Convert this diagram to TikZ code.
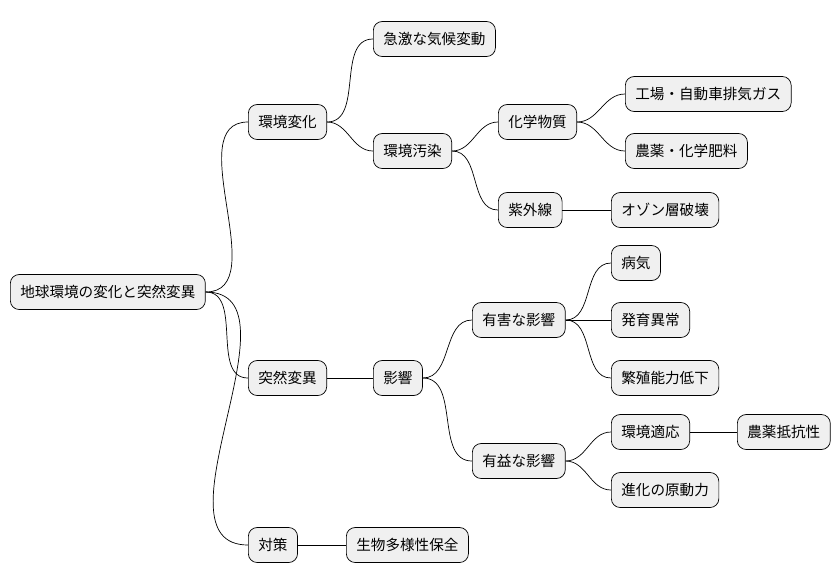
\documentclass[tikz,border=0pt]{standalone}
\usepackage{fontspec}
\setmainfont{Noto Sans CJK JP}
\begin{document}
\begin{tikzpicture}[x=0.02cm, y=-0.02cm, >=latex]
\tikzstyle{topic} = [draw, thin, rounded corners=5pt, fill=black!6, minimum height=0.7cm,
  inner xsep=0.2cm, anchor=west, font=\fontsize{8.3}{10}\selectfont]
\tikzstyle{link} = [thin, out=0, in=180]
\useasboundingbox (0,0) rectangle (838,583);

    % nodes at left edges
    \node [topic] (root) at (10,292) {地球環境の変化と突然変異};
    \node [topic] (change) at (248,122) {環境変化};
    \node [topic] (climate) at (373,39) {急激な気候変動};
    \node [topic] (pollution) at (373,151) {環境汚染};
    \node [topic] (chem) at (498,122) {化学物質};
    \node [topic] (exhaust) at (625,94) {工場・自動車排気ガス};
    \node [topic] (pesticide) at (625,151) {農薬・化学肥料};
    \node [topic] (uv) at (498,210) {紫外線};
    \node [topic] (ozone) at (611,210) {オゾン層破壊};
    \node [topic] (mutation) at (248,378) {突然変異};
    \node [topic] (effect) at (373,378) {影響};
    \node [topic] (harm) at (472,320) {有害な影響};
    \node [topic] (disease) at (611,263) {病気};
    \node [topic] (growth) at (611,320) {発育異常};
    \node [topic] (fertility) at (611,378) {繁殖能力低下};
    \node [topic] (benefit) at (472,461) {有益な影響};
    \node [topic] (adapt) at (611,432) {環境適応};
    \node [topic] (resist) at (737,432) {農薬抵抗性};
    \node [topic] (evolution) at (611,490) {進化の原動力};
    \node [topic] (measure) at (248,545) {対策};
    \node [topic] (diversity) at (346,545) {生物多様性保全};

    % branches
    \draw [link] (root.east) to (change.west);
    \draw [link] (root.east) to (mutation.west);
    \draw [link] (root.east) to (measure.west);
    \draw [link] (change.east) to (climate.west);
    \draw [link] (change.east) to (pollution.west);
    \draw [link] (pollution.east) to (chem.west);
    \draw [link] (pollution.east) to (uv.west);
    \draw [link] (chem.east) to (exhaust.west);
    \draw [link] (chem.east) to (pesticide.west);
    \draw [link] (uv.east) to (ozone.west);
    \draw [link] (mutation.east) to (effect.west);
    \draw [link] (effect.east) to (harm.west);
    \draw [link] (effect.east) to (benefit.west);
    \draw [link] (harm.east) to (disease.west);
    \draw [link] (harm.east) to (growth.west);
    \draw [link] (harm.east) to (fertility.west);
    \draw [link] (benefit.east) to (adapt.west);
    \draw [link] (benefit.east) to (evolution.west);
    \draw [link] (adapt.east) to (resist.west);
    \draw [link] (measure.east) to (diversity.west);

\end{tikzpicture}
\end{document}
